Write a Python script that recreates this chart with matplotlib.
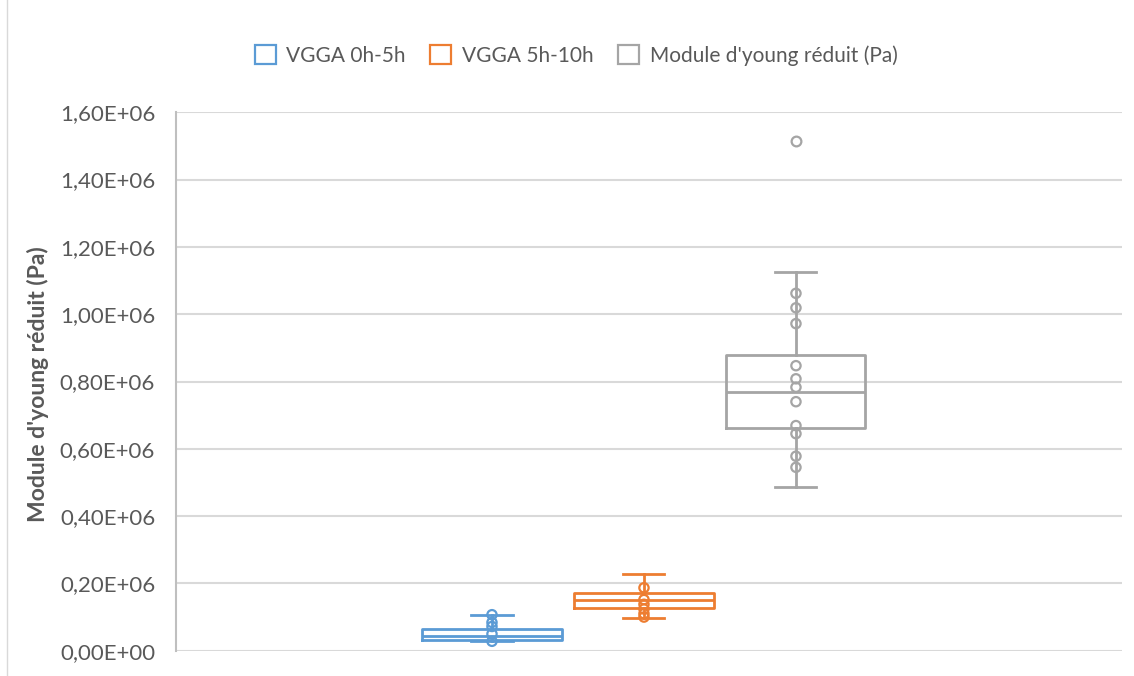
import matplotlib
matplotlib.use("Agg")
import matplotlib.pyplot as plt
from matplotlib.lines import Line2D
from matplotlib.patches import Patch
from matplotlib.ticker import FuncFormatter

plt.rcParams['font.family'] = ['Lato', 'DejaVu Sans']

# series
series = ["VGGA 0h-5h", "VGGA 5h-10h", "Module d'young réduit (Pa)"]
colors = ["#5B9BD5", "#ED7D31", "#A5A5A5"]
whislo = [0.028e6, 0.097e6, 0.487e6]
q1 = [0.0327e6, 0.127e6, 0.661e6]
med = [0.0437e6, 0.150e6, 0.769e6]
q3 = [0.0645e6, 0.172e6, 0.878e6]
whishi = [0.107e6, 0.228e6, 1.125e6]
fliers = [[], [], [1.514e6]]
inner = [
    [0.107e6, 0.084e6, 0.072e6, 0.050e6, 0.028e6],
    [0.187e6, 0.152e6, 0.138e6, 0.124e6, 0.110e6, 0.100e6],
    [1.062e6, 1.019e6, 0.972e6, 0.847e6, 0.808e6, 0.783e6, 0.740e6,
     0.669e6, 0.645e6, 0.578e6, 0.545e6],
]
yticks = [0, 0.2e6, 0.4e6, 0.6e6, 0.8e6, 1.0e6, 1.2e6, 1.4e6, 1.6e6]

txt = "#595959"
grid = "#D9D9D9"


def fmt(v, p):
    # Excel style: same exponent for all labels, decimal comma
    if v == 0:
        return "0,00E+00"
    return ("%.2f" % (v / 1e6)).replace(".", ",") + "E+06"


fig = plt.figure(figsize=(11.34, 6.76), dpi=100)
ax = fig.add_axes([0.1552, 0.0374, 0.9894 - 0.1552, 0.8339 - 0.0374])

# chart border on the left
fig.add_artist(Line2D([0.0062, 0.0062], [0, 1], transform=fig.transFigure,
                      color="#D9D9D9", lw=1))

pos = [0, 1, 2]
for i in range(3):
    st = [dict(whislo=whislo[i], q1=q1[i], med=med[i], q3=q3[i],
               whishi=whishi[i], fliers=fliers[i])]
    c = colors[i]
    ax.bxp(st, positions=[pos[i]], widths=0.915, showfliers=True,
           boxprops=dict(color=c, lw=2), medianprops=dict(color=c, lw=2),
           whiskerprops=dict(color=c, lw=2), capprops=dict(color=c, lw=2),
           capwidths=0.27,
           flierprops=dict(marker='o', markerfacecolor='white',
                           markeredgecolor=c, markersize=7, markeredgewidth=1.6),
           zorder=3)
    ax.scatter([pos[i]] * len(inner[i]), inner[i], s=45, facecolors='none',
               edgecolors=c, linewidths=1.6, zorder=4)

ax.set_xlim(-2.079, 4.145)
ax.set_ylim(0, 1.6e6)
ax.set_yticks(yticks)
ax.yaxis.set_major_formatter(FuncFormatter(fmt))
ax.set_xticks([])
ax.grid(axis='y', color=grid, lw=1.5, zorder=0)
ax.set_axisbelow(True)
for s in ["top", "right", "bottom"]:
    ax.spines[s].set_visible(False)
ax.spines["left"].set_color("#BFBFBF")
ax.spines["left"].set_linewidth(1.5)
ax.tick_params(axis='y', length=0, pad=15, labelsize=16, labelcolor=txt)
ax.set_ylabel("Module d'young réduit (Pa)", fontsize=16.5, fontweight='bold',
              color=txt, va='center')
ax.yaxis.set_label_coords(-0.146, 0.495)

handles = [Patch(facecolor='white', edgecolor=c, lw=1.6) for c in colors]
fig.legend(handles, series, loc='center', bbox_to_anchor=(0.508, 0.918),
           ncol=3, frameon=False, fontsize=15, labelcolor=txt,
           handlelength=1.0, handleheight=1.0, handletextpad=0.5,
           columnspacing=1.2)

fig.savefig("out.png", dpi=100)
